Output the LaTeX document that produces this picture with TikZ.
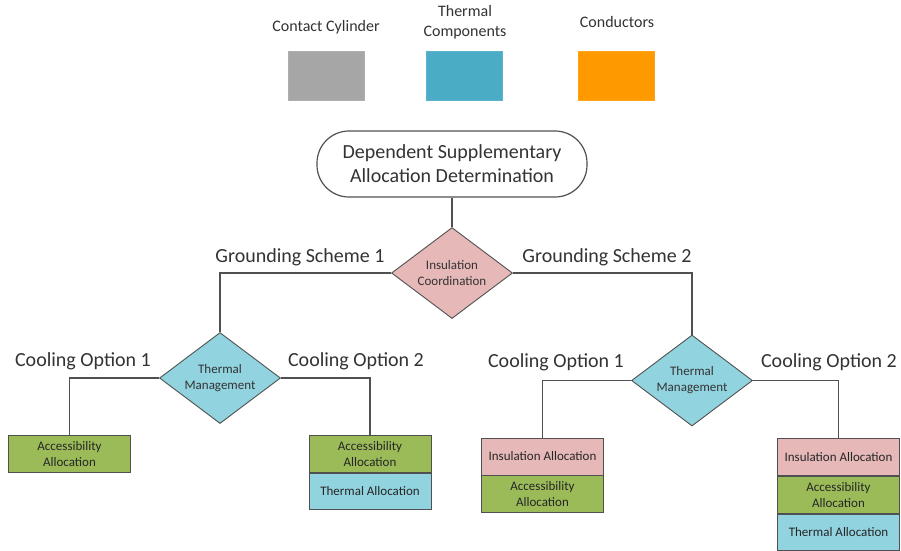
\documentclass[tikz,border=0pt]{standalone}
\usepackage{fontspec}
\setmainfont{Carlito}
\usetikzlibrary{shapes.geometric}

\definecolor{cylgray}{HTML}{A6A6A6}
\definecolor{thermblue}{HTML}{4BACC6}
\definecolor{condorange}{HTML}{FF9900}
\definecolor{insupink}{HTML}{E6B9B8}
\definecolor{thermcyan}{HTML}{92D3E0}
\definecolor{accgreen}{HTML}{9BBB59}
\definecolor{linegray}{HTML}{505050}
\definecolor{txtgray}{HTML}{333333}

\tikzset{
  legendbox/.style={fill=#1, draw=#1!90!white, minimum width=76, minimum height=49, inner sep=0pt},
  legendtxt/.style={font=\fontsize{16}{20}\selectfont, text=txtgray, align=center, inner sep=0pt},
  branchtxt/.style={font=\fontsize{20}{24}\selectfont, text=txtgray, inner sep=0pt},
  startnode/.style={draw=linegray, line width=1.2pt, rounded corners=32pt, minimum width=270, minimum height=66,
    align=center, font=\fontsize{20}{24}\selectfont, text=txtgray, inner sep=0pt},
  decision/.style={diamond, shape aspect=1.333, draw=linegray, line width=0.9pt, fill=#1,
    minimum width=121, minimum height=91, inner sep=0pt, align=center,
    font=\fontsize{13}{16}\selectfont, text=txtgray},
  alloc/.style={draw=linegray, line width=0.9pt, fill=#1, minimum width=122, minimum height=36.5,
    inner sep=0pt, align=center, font=\fontsize{13}{16}\selectfont, text=black!85},
  link/.style={draw=linegray, line width=1.5pt}
}

\begin{document}
\begin{tikzpicture}[x=1pt, y=-1pt]
  \fill[white] (0,0) rectangle (901,550);
  \useasboundingbox (0,0) rectangle (901,550);

  % colour key
  \node[legendtxt] (keycyltxt) at (326,27) {Contact Cylinder};
  \node[legendtxt] (keythmtxt) at (465,22) {Thermal\\[-0.5pt]Components};
  \node[legendtxt] (keycontxt) at (617,22) {Conductors};
  \node[legendbox=cylgray] (keycyl) at (326,75.5) {};
  \node[legendbox=thermblue] (keythm) at (464.5,76) {};
  \node[legendbox=condorange] (keycon) at (616.5,76) {};

  % root and first decision
  \node[startnode] (root) at (452,164) {Dependent Supplementary\\Allocation Determination};
  \node[decision=insupink] (insul) at (452,273) {Insulation\\Coordination};

  % second-level decisions
  \node[decision=thermcyan] (thermL) at (220,378) {Thermal\\Management};
  \node[decision=thermcyan] (thermR) at (692,380.5) {Thermal\\Management};

  % allocation blocks, left branch
  \node[alloc=accgreen] (aL1) at (69.5,454) {Accessibility\\Allocation};
  \node[alloc=accgreen] (aL2) at (370,454) {Accessibility\\Allocation};
  \node[alloc=thermcyan, anchor=north] (aL2b) at (aL2.south) {Thermal Allocation};

  % allocation blocks, right branch
  \node[alloc=insupink, minimum height=37] (aR1) at (542.5,456.5) {Insulation Allocation};
  \node[alloc=accgreen, minimum height=37, anchor=north] (aR1b) at (aR1.south) {Accessibility\\Allocation};
  \node[alloc=insupink, minimum height=37] (aR2) at (838.5,457) {Insulation Allocation};
  \node[alloc=accgreen, minimum height=37, anchor=north] (aR2b) at (aR2.south) {Accessibility\\Allocation};
  \node[alloc=thermcyan, minimum height=36, anchor=north] (aR2c) at (aR2b.south) {Thermal Allocation};

  % branch labels
  \node[branchtxt] (gs1) at (300,257) {Grounding Scheme 1};
  \node[branchtxt] (gs2) at (607,257) {Grounding Scheme 2};
  \node[branchtxt] (coL1) at (83,361) {Cooling Option 1};
  \node[branchtxt] (coL2) at (356,361) {Cooling Option 2};
  \node[branchtxt] (coR1) at (556,362) {Cooling Option 1};
  \node[branchtxt] (coR2) at (829,362) {Cooling Option 2};

  % connectors
  \draw[link] (root.south) -- (insul.north);
  \draw[link] (insul.west) -| (thermL.north);
  \draw[link] (insul.east) -| (thermR.north);
  \draw[link] (thermL.west) -| (aL1.north);
  \draw[link] (thermL.east) -| (aL2.north);
  \draw[link] (thermR.west) -| (aR1.north);
  \draw[link] (thermR.east) -| (aR2.north);
\end{tikzpicture}
\end{document}
